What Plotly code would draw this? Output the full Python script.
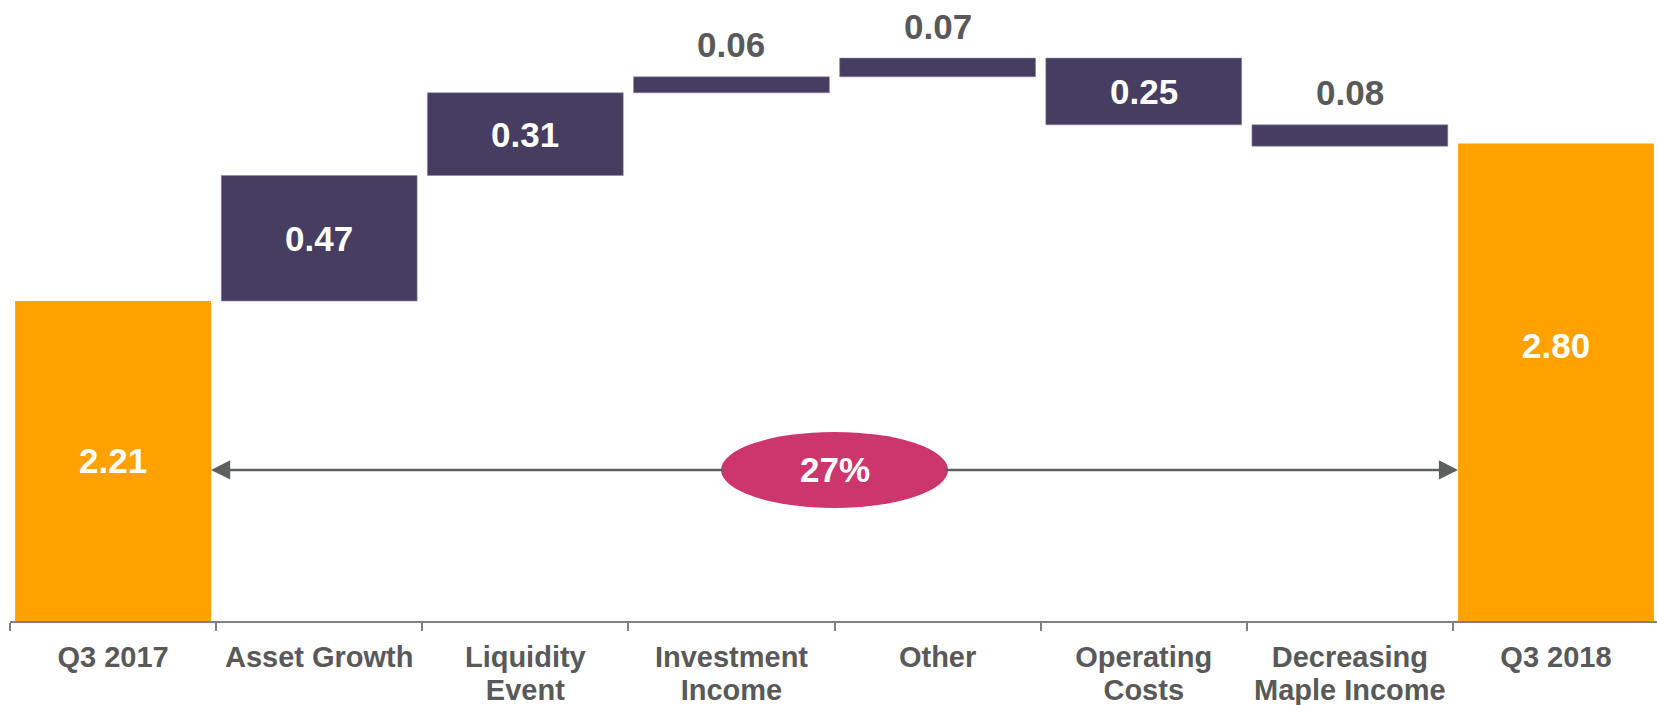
import plotly.graph_objects as go

# ---- data ----
categories = ["Q3 2017", "Asset Growth", "Liquidity<br>Event", "Investment<br>Income",
              "Other", "Operating<br>Costs", "Decreasing<br>Maple Income", "Q3 2018"]
values = [2.21, 0.47, 0.31, 0.06, 0.07, -0.25, -0.08, 2.80]
measures = ["absolute", "relative", "relative", "relative", "relative", "relative", "relative", "absolute"]
labels = ["2.21", "0.47", "0.31", "0.06", "0.07", "0.25", "0.08", "2.80"]

# ---- style ----
ORANGE = "#FFA200"
PURPLE = "#463D60"
GREY_TXT = "#595959"
AXIS_GREY = "#808080"
MAGENTA = "#CC366C"
FONT = "Liberation Sans"

W, H = 1657, 705
ML, MR, MT, MB = 10, 0, 0, 84
Y_MIN = 1.011
PX_PER_UNIT = 266.9
Y_MAX = Y_MIN + (H - MT - MB) / PX_PER_UNIT
X_RANGE = [-0.5, 7.49]
PX_PER_CAT = (W - ML - MR) / (X_RANGE[1] - X_RANGE[0])
BAR_W = 0.95

tick_text = ["<br>".join(f'<span style="font-size:29px">{p}</span>' for p in c.split("<br>"))
             for c in categories]

fig = go.Figure(go.Waterfall(
    x=categories, y=values, measure=measures,
    width=BAR_W,
    increasing=dict(marker=dict(color=PURPLE, line=dict(color="#8C86A3", width=0.6))),
    decreasing=dict(marker=dict(color=PURPLE, line=dict(color="#8C86A3", width=0.6))),
    totals=dict(marker=dict(color=ORANGE, line=dict(width=0))),
    connector=dict(visible=False),
    textinfo="none", hoverinfo="skip",
))

annotations = []
cum = 0.0
for i, (v, m, lab) in enumerate(zip(values, measures, labels)):
    if m == "absolute":
        cum = v
        annotations.append(dict(x=i, y=v * 0.73, xref="x", yref="y", text=lab, showarrow=False,
                                font=dict(family=FONT, size=35, color="white", weight="bold")))
    else:
        before, after = cum, cum + v
        cum = after
        top, bot = max(before, after), min(before, after)
        if abs(v) >= 0.2:
            annotations.append(dict(x=i, y=(top + bot) / 2, xref="x", yref="y", text=lab,
                                    showarrow=False,
                                    font=dict(family=FONT, size=35, color="white", weight="bold")))
        else:
            annotations.append(dict(x=i, y=top, xref="x", yref="y", text=lab, showarrow=False,
                                    yshift=32,
                                    font=dict(family=FONT, size=35, color=GREY_TXT, weight="bold")))

# growth arrow + ellipse
start, end = values[0], values[-1]
pct = (end - start) / start * 100
ARROW_Y = 1.577
mid_x = (len(values) - 1) / 2
ELL_RX, ELL_RY = 113.5, 38
ell_half = ELL_RX / PX_PER_CAT
left_edge = 0 + BAR_W / 2
right_edge = len(values) - 1 - BAR_W / 2
for head, tail in [(left_edge, mid_x - ell_half + 0.02), (right_edge, mid_x + ell_half - 0.02)]:
    annotations.append(dict(x=head, y=ARROW_Y, ax=tail, ay=ARROW_Y, xref="x", yref="y",
                            axref="x", ayref="y", text="", showarrow=True, arrowhead=2,
                            arrowsize=1.6, arrowwidth=2.4, arrowcolor="#5E6060", standoff=0))

annotations.append(dict(x=mid_x, y=ARROW_Y, xref="x", yref="y", text=f"{pct:.0f}%", showarrow=False,
                        font=dict(family=FONT, size=35, color="white", weight="bold")))

fig.add_shape(type="circle", xref="x", yref="y", xsizemode="pixel", ysizemode="pixel",
              xanchor=mid_x, yanchor=ARROW_Y, x0=-ELL_RX, x1=ELL_RX, y0=-ELL_RY, y1=ELL_RY,
              fillcolor=MAGENTA, line=dict(width=0), layer="above")

fig.update_layout(
    width=W, height=H,
    margin=dict(l=ML, r=MR, t=MT, b=MB),
    paper_bgcolor="white", plot_bgcolor="white",
    showlegend=False,
    annotations=annotations,
    xaxis=dict(type="category", range=X_RANGE, showgrid=False, zeroline=False,
               tickmode="array", tickvals=categories, ticktext=tick_text,
               showline=True, linecolor=AXIS_GREY, linewidth=2,
               ticks="outside", tickson="boundaries", ticklen=8, tickwidth=1.5, tickcolor=AXIS_GREY,
               tickfont=dict(family=FONT, size=25, color=GREY_TXT, weight="bold"),
               ticklabelstandoff=14),
    yaxis=dict(range=[Y_MIN, Y_MAX], visible=False, showgrid=False, zeroline=False),
)

fig.write_html("out.html", config={"displayModeBar": False},
               post_script="document.body.style.margin='0';document.body.style.overflow='hidden';")
